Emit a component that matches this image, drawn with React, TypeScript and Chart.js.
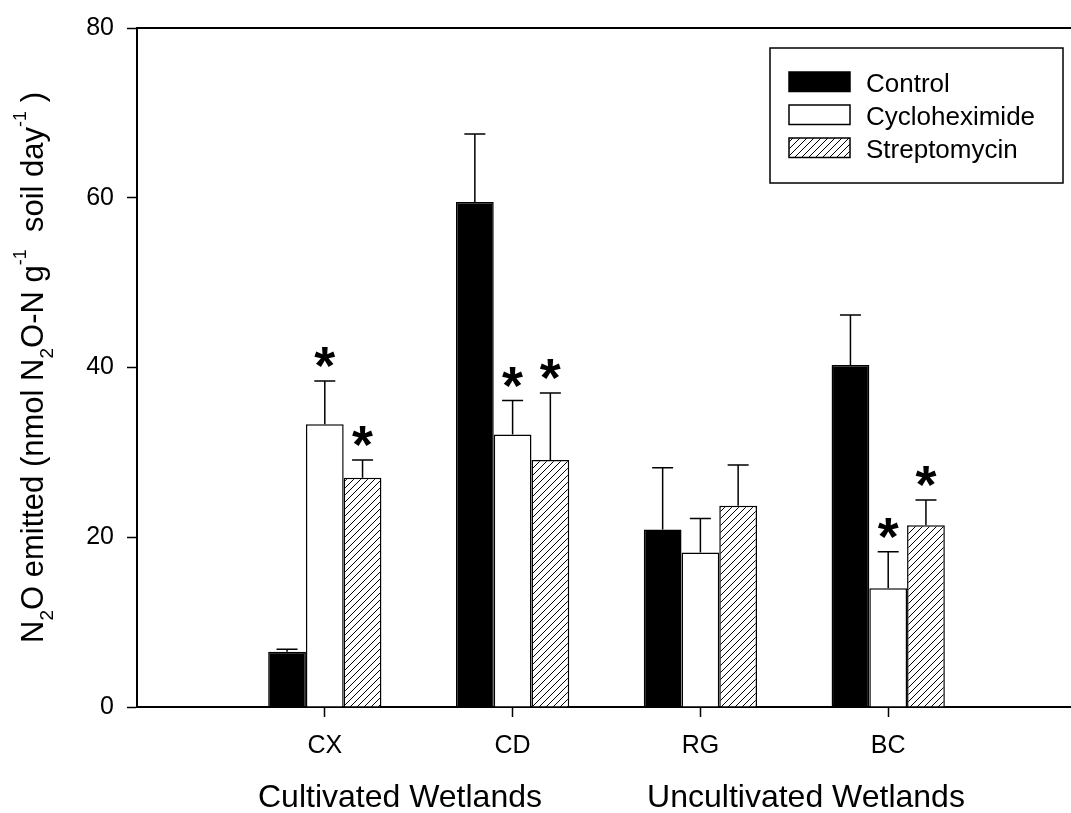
import React, { useEffect, useRef } from 'react';
import { Chart, registerables } from 'chart.js';

Chart.register(...registerables);

const FONT = '"Liberation Sans", Arial, Helvetica, sans-serif';

// Sampling sites along the x axis
const sites = ['CX', 'CD', 'RG', 'BC'];

// Mean N2O emission and standard error per treatment
const controlMean = [6.5, 59.5, 20.9, 40.3];
const controlErr = [0.3, 8.0, 7.3, 5.9];
const cycloMean = [33.3, 32.1, 18.2, 14.0];
const cycloErr = [5.1, 4.0, 4.0, 4.3];
const strepMean = [27.0, 29.1, 23.7, 21.4];
const strepErr = [2.1, 7.9, 4.8, 3.0];

// Significant difference from the control (marked with *)
const controlSig = [false, false, false, false];
const cycloSig = [true, true, false, true];
const strepSig = [true, true, false, true];

const seriesNames = ['Control', 'Cycloheximide', 'Streptomycin'];
const yTicks = [0, 20, 40, 60, 80];
const groupLabels = ['Cultivated Wetlands', 'Uncultivated Wetlands'];

// Axis title pieces: [text, kind] where kind is '', 'sub' or 'sup'
const yTitleParts: [string, string][] = [
  ['N', ''],
  ['2', 'sub'],
  ['O emitted (nmol N', ''],
  ['2', 'sub'],
  ['O-N g', ''],
  ['-1', 'sup'],
  ['  soil day', ''],
  ['-1', 'sup'],
  [' )', ''],
];

// empty slots at both ends keep the groups away from the frame
const pad = <T,>(arr: T[]): (T | null)[] => [null, ...arr, null];
const xLabels = ['', ...sites, ''];

function makeHatch(): CanvasPattern | string {
  const s = 7;
  const c = document.createElement('canvas');
  c.width = s;
  c.height = s;
  const g = c.getContext('2d');
  if (!g) return '#fff';
  g.fillStyle = '#fff';
  g.fillRect(0, 0, s, s);
  g.strokeStyle = '#000';
  g.lineWidth = 1;
  g.beginPath();
  g.moveTo(-1, s + 1);
  g.lineTo(s + 1, -1);
  g.moveTo(-1, 1);
  g.lineTo(1, -1);
  g.moveTo(s - 1, s + 1);
  g.lineTo(s + 1, s - 1);
  g.stroke();
  return g.createPattern(c, 'repeat') || '#fff';
}

const errorBarPlugin = {
  id: 'errorBars',
  afterDatasetsDraw(chart: any) {
    const { ctx } = chart;
    const y = chart.scales.y;
    ctx.save();
    chart.data.datasets.forEach((ds: any, i: number) => {
      const meta = chart.getDatasetMeta(i);
      meta.data.forEach((bar: any, j: number) => {
        const v = ds.data[j];
        const e = ds.errors[j];
        if (v == null || e == null) return;
        const top = y.getPixelForValue(v + e);
        ctx.strokeStyle = '#000';
        ctx.lineWidth = 1.5;
        ctx.beginPath();
        ctx.moveTo(bar.x, bar.y);
        ctx.lineTo(bar.x, top);
        ctx.moveTo(bar.x - 10.5, top);
        ctx.lineTo(bar.x + 10.5, top);
        ctx.stroke();
        if (ds.significant[j]) {
          // size the asterisk so its glyph is about 21px wide
          ctx.font = `bold 100px ${FONT}`;
          const m100 = ctx.measureText('*');
          const w100 = m100.actualBoundingBoxLeft + m100.actualBoundingBoxRight;
          const size = (100 * 21) / w100;
          ctx.font = `bold ${size}px ${FONT}`;
          const m = ctx.measureText('*');
          ctx.fillStyle = '#000';
          ctx.textAlign = 'left';
          ctx.textBaseline = 'alphabetic';
          const gx = bar.x - (m.actualBoundingBoxRight - m.actualBoundingBoxLeft) / 2;
          const baseY = top - 13 - m.actualBoundingBoxDescent;
          ctx.fillText('*', gx, baseY);
        }
      });
    });
    ctx.restore();
  },
};

const legendPlugin = {
  id: 'boxedLegend',
  afterDraw(chart: any) {
    const { ctx } = chart;
    ctx.save();
    ctx.strokeStyle = '#000';
    ctx.lineWidth = 1.5;
    ctx.strokeRect(770, 48, 293, 135);
    ctx.font = `26px ${FONT}`;
    ctx.textAlign = 'left';
    ctx.textBaseline = 'alphabetic';
    chart.data.datasets.forEach((ds: any, i: number) => {
      const top = 72 + i * 33;
      ctx.fillStyle = ds.backgroundColor;
      ctx.fillRect(789, top, 61, 19.5);
      ctx.lineWidth = 1.5;
      ctx.strokeStyle = '#000';
      ctx.strokeRect(789, top, 61, 19.5);
      ctx.fillStyle = '#000';
      ctx.fillText(ds.label, 866, top + 19.5);
    });
    ctx.restore();
  },
};

const axisTextPlugin = {
  id: 'axisTexts',
  afterDraw(chart: any) {
    const { ctx, chartArea } = chart;
    ctx.save();
    ctx.fillStyle = '#000';
    ctx.textBaseline = 'alphabetic';

    // group captions under the site labels
    ctx.font = `32px ${FONT}`;
    ctx.textAlign = 'center';
    ctx.fillText(groupLabels[0], 400, 807);
    ctx.fillText(groupLabels[1], 806, 807);

    // rotated y axis title with sub/superscripts
    const main = `31px ${FONT}`;
    const small = `19px ${FONT}`;
    const sup = `18px ${FONT}`;
    const fontFor = (k: string) => (k === 'sub' ? small : k === 'sup' ? sup : main);
    let total = 0;
    yTitleParts.forEach(([t, k]) => {
      ctx.font = fontFor(k);
      total += ctx.measureText(t).width;
    });
    const cy = (chartArea.top + chartArea.bottom) / 2;
    ctx.translate(43, cy);
    ctx.rotate(-Math.PI / 2);
    ctx.textAlign = 'left';
    let x = -total / 2;
    yTitleParts.forEach(([t, k]) => {
      ctx.font = fontFor(k);
      const dy = k === 'sub' ? 10 : k === 'sup' ? -17 : 0;
      ctx.fillText(t, x, dy);
      x += ctx.measureText(t).width;
    });
    ctx.restore();
  },
};

export default function App() {
  const canvasRef = useRef<HTMLCanvasElement | null>(null);

  useEffect(() => {
    const canvas = canvasRef.current;
    if (!canvas) return;
    const hatch = makeHatch();

    const chart = new Chart(canvas, {
      type: 'bar',
      data: {
        labels: xLabels,
        datasets: [
          {
            label: seriesNames[0],
            data: pad(controlMean),
            errors: pad(controlErr),
            significant: pad(controlSig),
            backgroundColor: '#000',
            borderColor: '#000',
            borderWidth: 1.5,
          },
          {
            label: seriesNames[1],
            data: pad(cycloMean),
            errors: pad(cycloErr),
            significant: pad(cycloSig),
            backgroundColor: '#fff',
            borderColor: '#000',
            borderWidth: 1.5,
          },
          {
            label: seriesNames[2],
            data: pad(strepMean),
            errors: pad(strepErr),
            significant: pad(strepSig),
            backgroundColor: hatch,
            borderColor: '#000',
            borderWidth: 1.5,
          },
        ] as any,
      },
      options: {
        animation: false,
        responsive: false,
        devicePixelRatio: 1,
        layout: { padding: { top: 26, left: 0, right: 8, bottom: 0 } },
        datasets: {
          bar: { barPercentage: 1, categoryPercentage: 0.603 },
        },
        plugins: {
          legend: { display: false },
          tooltip: { enabled: false },
        },
        scales: {
          x: {
            type: 'category',
            offset: false,
            grid: {
              offset: false,
              drawOnChartArea: false,
              drawTicks: true,
              tickLength: 10,
              tickWidth: 1.5,
              tickColor: (c: any) => (xLabels[c.index] ? '#000' : 'rgba(0,0,0,0)'),
            },
            border: { display: true, color: '#000', width: 2 },
            ticks: {
              color: '#000',
              padding: 14,
              maxRotation: 0,
              autoSkip: false,
              font: { family: FONT, size: 25 },
            },
            afterFit: (s: any) => {
              s.height = 106;
            },
          },
          xTop: {
            type: 'category',
            position: 'top',
            labels: xLabels,
            offset: false,
            grid: { display: false },
            ticks: { display: false },
            border: { display: true, color: '#000', width: 2 },
            afterFit: (s: any) => {
              s.height = 0;
            },
          },
          y: {
            min: yTicks[0],
            max: yTicks[yTicks.length - 1],
            ticks: {
              stepSize: yTicks[1] - yTicks[0],
              color: '#000',
              padding: 13,
              font: { family: FONT, size: 25 },
            },
            afterBuildTicks: (s: any) => {
              s.ticks = yTicks.map((v) => ({ value: v }));
            },
            grid: {
              drawOnChartArea: false,
              drawTicks: true,
              tickLength: 10,
              tickWidth: 1.5,
              tickColor: '#000',
            },
            border: { display: true, color: '#000', width: 2 },
            afterFit: (s: any) => {
              s.width = 137;
            },
          },
        },
      } as any,
      plugins: [errorBarPlugin, legendPlugin, axisTextPlugin],
    });

    return () => chart.destroy();
  }, []);

  return (
    <div
      style={{
        position: 'fixed',
        left: 0,
        top: 0,
        width: 1071,
        height: 813,
        overflow: 'hidden',
        background: '#fff',
      }}
    >
      <canvas ref={canvasRef} width={1090} height={813} style={{ display: 'block' }} />
    </div>
  );
}
